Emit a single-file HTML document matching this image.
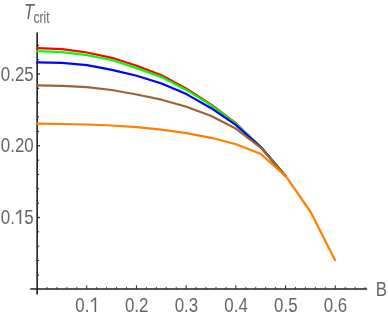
<!DOCTYPE html>
<html><head><meta charset="utf-8"><title>Tcrit vs B</title>
<style>
html,body{margin:0;padding:0;background:#ffffff;}
body{width:388px;height:319px;overflow:hidden;font-family:"Liberation Sans",sans-serif;}
svg{display:block;font-family:"Liberation Sans",sans-serif;}
</style></head><body>
<svg width="388" height="319" viewBox="0 0 388 319">
<defs><filter id="soft" x="0" y="0" width="388" height="319" filterUnits="userSpaceOnUse"><feGaussianBlur stdDeviation="0.35"/></filter></defs>
<rect x="0" y="0" width="388" height="319" fill="#ffffff"/>
<g filter="url(#soft)">
<rect x="0" y="0" width="388" height="319" fill="#ffffff"/>
<line x1="30.2" y1="288.95" x2="367.1" y2="288.95" stroke="#202020" stroke-width="1.6"/>
<line x1="37.15" y1="32.4" x2="37.15" y2="294.6" stroke="#202020" stroke-width="1.6"/>
<line x1="46.99" y1="288.95" x2="46.99" y2="286.85" stroke="#202020" stroke-width="0.8"/>
<line x1="56.93" y1="288.95" x2="56.93" y2="286.85" stroke="#202020" stroke-width="0.8"/>
<line x1="66.87" y1="288.95" x2="66.87" y2="286.85" stroke="#202020" stroke-width="0.8"/>
<line x1="76.81" y1="288.95" x2="76.81" y2="286.85" stroke="#202020" stroke-width="0.8"/>
<line x1="86.75" y1="288.95" x2="86.75" y2="285.35" stroke="#202020" stroke-width="1"/>
<line x1="96.69" y1="288.95" x2="96.69" y2="286.85" stroke="#202020" stroke-width="0.8"/>
<line x1="106.63" y1="288.95" x2="106.63" y2="286.85" stroke="#202020" stroke-width="0.8"/>
<line x1="116.57" y1="288.95" x2="116.57" y2="286.85" stroke="#202020" stroke-width="0.8"/>
<line x1="126.51" y1="288.95" x2="126.51" y2="286.85" stroke="#202020" stroke-width="0.8"/>
<line x1="136.45" y1="288.95" x2="136.45" y2="285.35" stroke="#202020" stroke-width="1"/>
<line x1="146.39" y1="288.95" x2="146.39" y2="286.85" stroke="#202020" stroke-width="0.8"/>
<line x1="156.33" y1="288.95" x2="156.33" y2="286.85" stroke="#202020" stroke-width="0.8"/>
<line x1="166.27" y1="288.95" x2="166.27" y2="286.85" stroke="#202020" stroke-width="0.8"/>
<line x1="176.21" y1="288.95" x2="176.21" y2="286.85" stroke="#202020" stroke-width="0.8"/>
<line x1="186.15" y1="288.95" x2="186.15" y2="285.35" stroke="#202020" stroke-width="1"/>
<line x1="196.09" y1="288.95" x2="196.09" y2="286.85" stroke="#202020" stroke-width="0.8"/>
<line x1="206.03" y1="288.95" x2="206.03" y2="286.85" stroke="#202020" stroke-width="0.8"/>
<line x1="215.97" y1="288.95" x2="215.97" y2="286.85" stroke="#202020" stroke-width="0.8"/>
<line x1="225.91" y1="288.95" x2="225.91" y2="286.85" stroke="#202020" stroke-width="0.8"/>
<line x1="235.85" y1="288.95" x2="235.85" y2="285.35" stroke="#202020" stroke-width="1"/>
<line x1="245.79" y1="288.95" x2="245.79" y2="286.85" stroke="#202020" stroke-width="0.8"/>
<line x1="255.73" y1="288.95" x2="255.73" y2="286.85" stroke="#202020" stroke-width="0.8"/>
<line x1="265.67" y1="288.95" x2="265.67" y2="286.85" stroke="#202020" stroke-width="0.8"/>
<line x1="275.61" y1="288.95" x2="275.61" y2="286.85" stroke="#202020" stroke-width="0.8"/>
<line x1="285.55" y1="288.95" x2="285.55" y2="285.35" stroke="#202020" stroke-width="1"/>
<line x1="295.49" y1="288.95" x2="295.49" y2="286.85" stroke="#202020" stroke-width="0.8"/>
<line x1="305.43" y1="288.95" x2="305.43" y2="286.85" stroke="#202020" stroke-width="0.8"/>
<line x1="315.37" y1="288.95" x2="315.37" y2="286.85" stroke="#202020" stroke-width="0.8"/>
<line x1="325.31" y1="288.95" x2="325.31" y2="286.85" stroke="#202020" stroke-width="0.8"/>
<line x1="335.25" y1="288.95" x2="335.25" y2="285.35" stroke="#202020" stroke-width="1"/>
<line x1="345.19" y1="288.95" x2="345.19" y2="286.85" stroke="#202020" stroke-width="0.8"/>
<line x1="355.13" y1="288.95" x2="355.13" y2="286.85" stroke="#202020" stroke-width="0.8"/>
<line x1="365.07" y1="288.95" x2="365.07" y2="286.85" stroke="#202020" stroke-width="0.8"/>
<line x1="37.15" y1="274.90" x2="39.05" y2="274.90" stroke="#202020" stroke-width="1.1"/>
<line x1="37.15" y1="260.55" x2="39.05" y2="260.55" stroke="#202020" stroke-width="1.1"/>
<line x1="37.15" y1="246.20" x2="39.05" y2="246.20" stroke="#202020" stroke-width="1.1"/>
<line x1="37.15" y1="231.85" x2="39.05" y2="231.85" stroke="#202020" stroke-width="1.1"/>
<line x1="37.15" y1="217.50" x2="40.05" y2="217.50" stroke="#202020" stroke-width="1.25"/>
<line x1="37.15" y1="203.15" x2="39.05" y2="203.15" stroke="#202020" stroke-width="1.1"/>
<line x1="37.15" y1="188.80" x2="39.05" y2="188.80" stroke="#202020" stroke-width="1.1"/>
<line x1="37.15" y1="174.45" x2="39.05" y2="174.45" stroke="#202020" stroke-width="1.1"/>
<line x1="37.15" y1="160.10" x2="39.05" y2="160.10" stroke="#202020" stroke-width="1.1"/>
<line x1="37.15" y1="145.75" x2="40.05" y2="145.75" stroke="#202020" stroke-width="1.25"/>
<line x1="37.15" y1="131.40" x2="39.05" y2="131.40" stroke="#202020" stroke-width="1.1"/>
<line x1="37.15" y1="117.05" x2="39.05" y2="117.05" stroke="#202020" stroke-width="1.1"/>
<line x1="37.15" y1="102.70" x2="39.05" y2="102.70" stroke="#202020" stroke-width="1.1"/>
<line x1="37.15" y1="88.35" x2="39.05" y2="88.35" stroke="#202020" stroke-width="1.1"/>
<line x1="37.15" y1="74.00" x2="40.05" y2="74.00" stroke="#202020" stroke-width="1.25"/>
<line x1="37.15" y1="59.65" x2="39.05" y2="59.65" stroke="#202020" stroke-width="1.1"/>
<line x1="37.15" y1="45.30" x2="39.05" y2="45.30" stroke="#202020" stroke-width="1.1"/>
<polyline points="36.30,48.10 37.30,48.10 62.15,49.20 87.00,52.50 111.85,57.80 136.70,65.70 161.55,75.30 186.40,88.70 211.25,104.70 236.10,123.50 260.95,147.20 285.80,176.20" fill="none" stroke="#ff0000" stroke-width="2.2" stroke-linejoin="round" stroke-linecap="butt"/>
<polyline points="36.30,51.10 37.30,51.10 62.15,52.10 87.00,55.20 111.85,60.00 136.70,68.10 161.55,77.10 186.40,89.90 211.25,105.40 236.10,123.80 260.95,147.20 285.80,176.20" fill="none" stroke="#00ff00" stroke-width="2.2" stroke-linejoin="round" stroke-linecap="butt"/>
<polyline points="36.30,62.30 37.30,62.30 62.15,62.90 87.00,65.10 111.85,69.90 136.70,75.80 161.55,83.50 186.40,94.10 211.25,108.20 236.10,125.20 260.95,147.30 285.80,176.20" fill="none" stroke="#0000ff" stroke-width="2.2" stroke-linejoin="round" stroke-linecap="butt"/>
<polyline points="36.30,85.40 37.30,85.40 62.15,85.80 87.00,87.10 111.85,90.00 136.70,94.50 161.55,99.70 186.40,106.80 211.25,116.00 236.10,128.80 260.95,147.80 285.80,176.20" fill="none" stroke="#996633" stroke-width="2.2" stroke-linejoin="round" stroke-linecap="butt"/>
<polyline points="36.30,123.70 37.30,123.70 62.15,124.00 87.00,124.50 111.85,125.50 136.70,127.10 161.55,129.60 186.40,133.10 211.25,137.80 236.10,144.30 260.95,154.10 285.80,176.20 310.65,212.00 335.50,261.00" fill="none" stroke="#ff8000" stroke-width="2.2" stroke-linejoin="round" stroke-linecap="butt"/>
<text transform="translate(33.70,80.50) scale(0.805,1)" text-anchor="end" font-size="21" fill="#666666" >0.25</text>
<text transform="translate(33.70,152.25) scale(0.805,1)" text-anchor="end" font-size="21" fill="#666666" >0.20</text>
<text transform="translate(33.70,224.00) scale(0.805,1)" text-anchor="end" font-size="21" fill="#666666" >5</text>
<text transform="translate(14.90,224.00) scale(0.805,1)" text-anchor="end" font-size="21" fill="#666666" >0.</text>
<line x1="20.40" y1="209.80" x2="20.40" y2="224.05" stroke="#666666" stroke-width="1.65"/><line x1="16.10" y1="214.10" x2="19.90" y2="210.55" stroke="#666666" stroke-width="1.45"/>
<text transform="translate(136.70,312.00) scale(0.805,1)" text-anchor="middle" font-size="21" fill="#666666" >0.2</text>
<text transform="translate(186.40,312.00) scale(0.805,1)" text-anchor="middle" font-size="21" fill="#666666" >0.3</text>
<text transform="translate(236.10,312.00) scale(0.805,1)" text-anchor="middle" font-size="21" fill="#666666" >0.4</text>
<text transform="translate(285.80,312.00) scale(0.805,1)" text-anchor="middle" font-size="21" fill="#666666" >0.5</text>
<text transform="translate(335.50,312.00) scale(0.805,1)" text-anchor="middle" font-size="21" fill="#666666" >0.6</text>
<text transform="translate(75.25,312.00) scale(0.805,1)" text-anchor="start" font-size="21" fill="#666666" >0.</text>
<line x1="95.35" y1="297.50" x2="95.35" y2="312.05" stroke="#666666" stroke-width="1.65"/><line x1="91.05" y1="301.80" x2="94.85" y2="298.25" stroke="#666666" stroke-width="1.45"/>
<text transform="translate(375.80,295.90) scale(0.805,1)" text-anchor="start" font-size="21" fill="#666666" >B</text>
<text transform="translate(23.90,19.00) scale(0.754,1)" text-anchor="start" font-size="21.8" fill="#666666" font-style="italic">T</text>
<text transform="translate(33.60,22.60) scale(0.768,1)" text-anchor="start" font-size="15.6" fill="#666666" >crit</text>
</g>
</svg>
</body></html>
